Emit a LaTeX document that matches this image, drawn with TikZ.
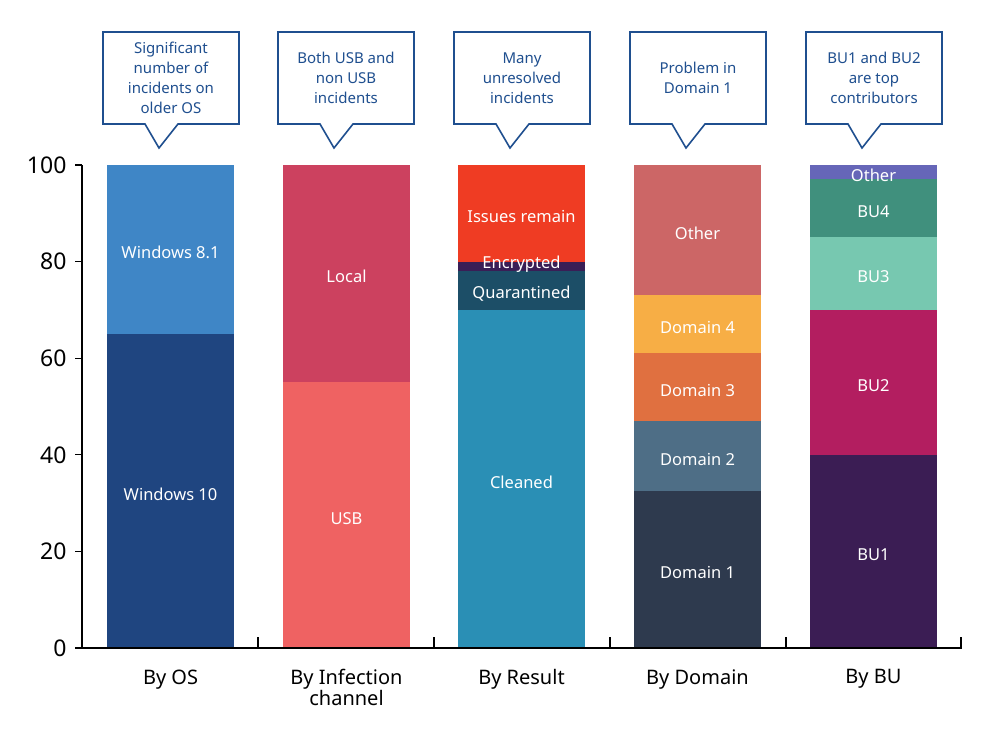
\documentclass[tikz,border=0pt]{standalone}
\usepackage{fontspec}
\setmainfont{Noto Sans}
\begin{document}
\begin{tikzpicture}[x=1pt,y=-1pt,
  lab/.style={text=white,font=\fontsize{16.5}{18}\selectfont},
  call/.style={draw=calloutc,line width=1.6pt,fill=white},
  ctext/.style={text=calloutc,align=center,font=\fontsize{15}{20}\selectfont},
  cat/.style={font=\fontsize{20}{23}\selectfont,align=center,anchor=north},
  ytick/.style={font=\fontsize{23}{26}\selectfont,anchor=east}]
\definecolor{calloutc}{HTML}{1F4F8F}
\definecolor{xca}{HTML}{1F4580}\definecolor{xcb}{HTML}{3F86C6}
\definecolor{xcc}{HTML}{EF6262}\definecolor{xcd}{HTML}{CC415F}
\definecolor{xce}{HTML}{2A8FB5}\definecolor{xcf}{HTML}{1C4E67}
\definecolor{xcg}{HTML}{3A1E56}\definecolor{xch}{HTML}{EF3C23}
\definecolor{xci}{HTML}{2E3A4E}\definecolor{xcj}{HTML}{4E6E86}
\definecolor{xck}{HTML}{E07040}\definecolor{xcl}{HTML}{F7AE45}
\definecolor{xcm}{HTML}{CC6666}\definecolor{xcn}{HTML}{3B1D54}
\definecolor{xco}{HTML}{B31E60}\definecolor{xcp}{HTML}{77C8B0}
\definecolor{xcq}{HTML}{40907D}\definecolor{xcr}{HTML}{6666B8}
\useasboundingbox[fill=white] (0,0) rectangle (986,742);
\newcommand{\seg}[5]{\fill[#4] (#1,{648-4.83*#2}) rectangle ({#1+127},{648-4.83*#3});
  \node[lab] at ({#1+63.5},{648-4.83*(#2+#3)/2+3}) {#5};}
\seg{107}{0}{65}{xca}{Windows 10}
\seg{107}{65}{100}{xcb}{Windows 8.1}
\seg{283}{0}{55}{xcc}{USB}
\seg{283}{55}{100}{xcd}{Local}
\seg{458}{0}{70}{xce}{Cleaned}
\seg{458}{70}{78}{xcf}{Quarantined}
\seg{458}{78}{80}{xcg}{}
\seg{458}{80}{100}{xch}{Issues remain}
\node[lab] at (521.5,264) {Encrypted};
\seg{634}{0}{32.5}{xci}{Domain 1}
\seg{634}{32.5}{47}{xcj}{Domain 2}
\seg{634}{47}{61}{xck}{Domain 3}
\seg{634}{61}{73}{xcl}{Domain 4}
\seg{634}{73}{100}{xcm}{Other}
\seg{810}{0}{40}{xcn}{BU1}
\seg{810}{40}{70}{xco}{BU2}
\seg{810}{70}{85}{xcp}{BU3}
\seg{810}{85}{97}{xcq}{BU4}
\seg{810}{97}{100}{xcr}{Other}
\coordinate (o) at (82,648);
\draw[line width=1.3pt] (82,165) -- (o) -- (962,648);
\foreach \v in {0,20,40,60,80,100}{
  \draw[line width=1.3pt] (75,{648-4.83*\v}) -- (82,{648-4.83*\v});
  \node[ytick] at (70,{648-4.83*\v}) {\v};}
\foreach \x in {258,434,610,786,961}{\draw[line width=1.3pt] (\x,648) -- (\x,637);}
\node[cat] (l1) at (170.5,666) {By OS};
\node[cat] (l2) at (346.5,666) {By Infection\\[-2pt]channel};
\node[cat] (l3) at (521.5,666) {By Result};
\node[cat] (l4) at (697.5,666) {By Domain};
\node[cat] (l5) at (873.5,666) {By BU};
\newcommand{\callout}[3]{%
  \draw[call] (#1,32) -- (#1+136,32) -- (#1+136,124) -- (#1+75,124) -- (#1+56,148) -- (#1+42,124) -- (#1,124) -- cycle;
  \node[ctext,name=#3] at (#1+68,78) {#2};}
\callout{103}{Significant\\number of\\incidents on\\older OS}{c1}
\callout{278}{Both USB and\\non USB\\incidents}{c2}
\callout{454}{Many\\unresolved\\incidents}{c3}
\callout{630}{Problem in\\Domain 1}{c4}
\callout{806}{BU1 and BU2\\are top\\contributors}{c5}
\end{tikzpicture}
\end{document}
